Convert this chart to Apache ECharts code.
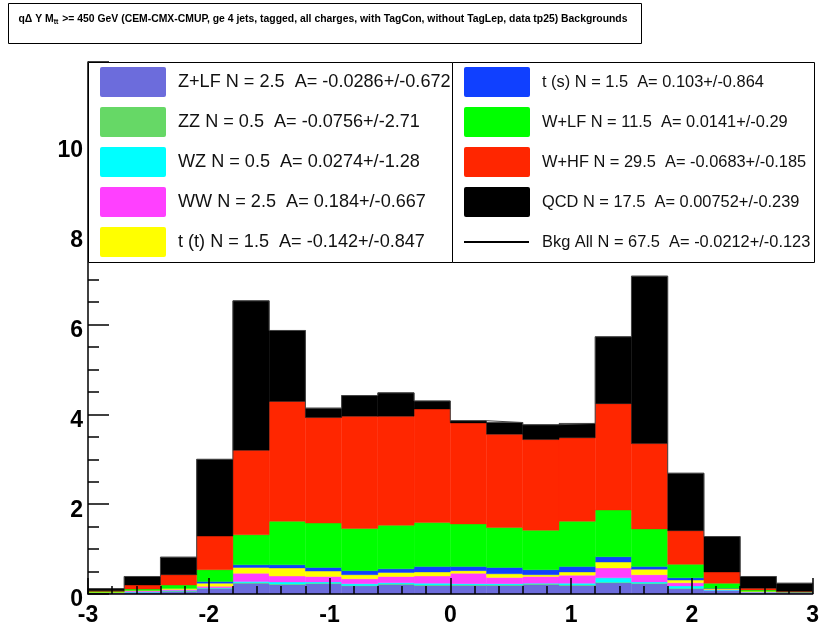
<!DOCTYPE html>
<html>
<head>
<meta charset="utf-8">
<script src="https://cdn.jsdelivr.net/npm/echarts@6/dist/echarts.min.js"></script>
<style>
html,body{margin:0;padding:0;background:#fff;}
#chart{width:822px;height:627px;}
</style>
</head>
<body>
<div id="chart"></div>
<script>
// ---- data ----
const binLow = [-3,-2.7,-2.4,-2.1,-1.8,-1.5,-1.2,-0.9,-0.6,-0.3,0,0.3,0.6,0.9,1.2,1.5,1.8,2.1,2.4,2.7];
const binWidth = 0.3;
const zlf     = [0.02,0.04,0.06,0.12,0.24,0.21,0.23,0.18,0.21,0.19,0.19,0.19,0.21,0.19,0.25,0.23,0.12,0.08,0.03,0.03];
const zz      = [0,0,0.005,0.01,0.01,0.01,0.01,0.01,0.01,0.01,0.01,0.01,0.01,0.01,0.01,0.01,0.01,0,0,0];
const wz      = [0,0.01,0.015,0.01,0.03,0.05,0.03,0.04,0.03,0.04,0.03,0.03,0.02,0.04,0.10,0.03,0.05,0.01,0.01,0];
const ww      = [0.01,0.02,0.02,0.03,0.18,0.13,0.12,0.11,0.14,0.16,0.23,0.14,0.15,0.18,0.22,0.16,0.07,0.01,0.01,0.01];
const ttbar   = [0.01,0.01,0.02,0.07,0.13,0.18,0.12,0.09,0.09,0.09,0.06,0.08,0.04,0.07,0.13,0.12,0.06,0.02,0.01,0];
const tsingle = [0,0,0,0.04,0.06,0.07,0.08,0.09,0.08,0.12,0.09,0.14,0.11,0.12,0.12,0.06,0.05,0.01,0,0];
const wlf     = [0.02,0.03,0.08,0.26,0.67,0.97,0.99,0.94,0.97,0.98,0.95,0.89,0.88,1.01,1.04,0.84,0.30,0.11,0.03,0.01];
const whf     = [0.01,0.09,0.23,0.75,1.88,2.67,2.35,2.50,2.43,2.53,2.25,2.08,2.02,1.86,2.37,1.90,0.75,0.25,0.04,0.01];
const qcd     = [0.05,0.19,0.39,1.71,3.33,1.58,0.21,0.46,0.52,0.18,0.05,0.26,0.33,0.32,1.49,3.73,1.28,0.79,0.26,0.18];

const layerNames = ['Z+LF','ZZ','WZ','WW','t (t)','t (s)','W+LF','W+HF','QCD'];
const layerColors = ['#6c6cdc','#66d866','#00ffff','#ff40ff','#ffff00','#1040ff','#00ff00','#ff2600','#000000'];
const layers = [zlf,zz,wz,ww,ttbar,tsingle,wlf,whf,qcd];

const legendLeft = [
  'Z+LF N = 2.5  A= -0.0286+/-0.672',
  'ZZ N = 0.5  A= -0.0756+/-2.71',
  'WZ N = 0.5  A= 0.0274+/-1.28',
  'WW N = 2.5  A= 0.184+/-0.667',
  't (t) N = 1.5  A= -0.142+/-0.847'
];
const legendRight = [
  't (s) N = 1.5  A= 0.103+/-0.864',
  'W+LF N = 11.5  A= 0.0141+/-0.29',
  'W+HF N = 29.5  A= -0.0683+/-0.185',
  'QCD N = 17.5  A= 0.00752+/-0.239',
  'Bkg All N = 67.5  A= -0.0212+/-0.123'
];
const yTicks = [0,2,4,6,8,10];

// ---- build ----
const chart = echarts.init(document.getElementById('chart'), null, {renderer:'canvas'});
const series = [];
const base = binLow.map(()=>0);
layers.forEach((arr, li) => {
  const data = [];
  arr.forEach((v, i) => {
    data.push([binLow[i], binLow[i]+binWidth, base[i], base[i]+v]);
    base[i] += v;
  });
  const col = layerColors[li];
  series.push({
    type:'custom', name: layerNames[li], z: 2,
    encode:{x:[0,1], y:[2,3]},
    data: data,
    renderItem: function(params, api){
      const x0 = api.value(0), x1 = api.value(1), y0 = api.value(2), y1 = api.value(3);
      if (y1 - y0 <= 0) return null;
      const p0 = api.coord([x0, y1]);
      const p1 = api.coord([x1, y0]);
      return {type:'rect', shape:{x:p0[0], y:p0[1], width:p1[0]-p0[0], height:p1[1]-p0[1]},
              style:{fill:col, stroke:col, lineWidth:0.4}};
    }
  });
});
const total = base.slice();
const outline = [[binLow[0],0]];
total.forEach((t,i)=> outline.push([binLow[i], t]));
outline.push([binLow[binLow.length-1]+binWidth, total[total.length-1]]);
outline.push([binLow[binLow.length-1]+binWidth, 0]);
series.push({type:'line', step:'end', data: outline, symbol:'none', z:3,
  lineStyle:{color:'#444', width:1}, silent:true});

const FONT = '"Liberation Sans", Arial, Helvetica, sans-serif';
const graphics = [];
// title box
graphics.push({type:'rect', left:8, top:3, shape:{width:633, height:40}, style:{fill:'#fff', stroke:'#000', lineWidth:1}, z:100});
graphics.push({type:'text', x:323, y:19, z:101, style:{
  text:'{n|q\u0394 Y M}{sub|t\u0305t}{n| >= 450 GeV (CEM-CMX-CMUP, ge 4 jets, tagged, all charges, with TagCon, without TagLep, data tp25) Backgrounds}',
  align:'center', verticalAlign:'middle', font:'bold 10.4px '+FONT, fill:'#000',
  rich:{sub:{fontSize:7, fontWeight:'bold', fontFamily:FONT, fill:'#000', padding:[7,1,0,0]}, n:{fontSize:10.4, fontWeight:'bold', fontFamily:FONT, fill:'#000'}}
}});
// legend boxes
graphics.push({type:'rect', left:88, top:62, shape:{width:364, height:200}, style:{fill:'#fff', stroke:'#000', lineWidth:1}, z:100});
graphics.push({type:'rect', left:452, top:62, shape:{width:362, height:200}, style:{fill:'#fff', stroke:'#000', lineWidth:1}, z:100});
const rowY = [82,122,162,202,242];
legendLeft.forEach((t,i)=>{
  graphics.push({type:'rect', x:100, y:rowY[i]-15, shape:{width:66, height:30, r:2}, style:{fill:layerColors[i]}, z:101});
  graphics.push({type:'text', x:178, y:rowY[i], z:102, style:{text:t, font:'18.1px '+FONT, fill:'#111', verticalAlign:'middle'}});
});
legendRight.forEach((t,i)=>{
  if (i < 4) {
    graphics.push({type:'rect', x:464, y:rowY[i]-15, shape:{width:66, height:30, r:2}, style:{fill:layerColors[5+i]}, z:101});
  } else {
    graphics.push({type:'line', shape:{x1:464, y1:rowY[i], x2:529, y2:rowY[i]}, style:{stroke:'#000', lineWidth:2}, z:101});
  }
  graphics.push({type:'text', x:542, y:rowY[i], z:102, style:{text:t, font:'16.4px '+FONT, fill:'#111', verticalAlign:'middle'}});
});

const option = {
  animation:false,
  backgroundColor:'#fff',
  grid:{left:88, right:7, top:62, bottom:30, containLabel:false},
  xAxis:{type:'value', min:-3, max:3, interval:1, z:10,
    axisLine:{show:true, onZero:false, lineStyle:{color:'#000', width:1.5}},
    axisTick:{show:true, inside:true, length:16, lineStyle:{color:'#000', width:1.5}},
    minorTick:{show:true, splitNumber:5, length:8, lineStyle:{color:'#000', width:1.5}},
    splitLine:{show:false},
    axisLabel:{color:'#000', fontSize:23, fontWeight:'bold', fontFamily:FONT, margin:10, showMinLabel:true, showMaxLabel:true}
  },
  yAxis:{type:'value', min:0, max:11.85, interval:2, z:10,
    axisLine:{show:true, onZero:false, lineStyle:{color:'#000', width:1.5}},
    axisTick:{show:true, inside:true, length:21, lineStyle:{color:'#000', width:1.5}},
    minorTick:{show:true, splitNumber:4, length:11, lineStyle:{color:'#000', width:1.5}},
    splitLine:{show:false},
    axisLabel:{color:'#000', fontSize:23, fontWeight:'bold', fontFamily:FONT, margin:5, showMaxLabel:false,
      verticalAlign:'top', lineHeight:12,
      formatter: function(v){ return yTicks.indexOf(v) >= 0 ? String(v) : ''; }}
  },
  series: series,
  graphic: graphics
};
chart.setOption(option);
</script>
</body>
</html>
